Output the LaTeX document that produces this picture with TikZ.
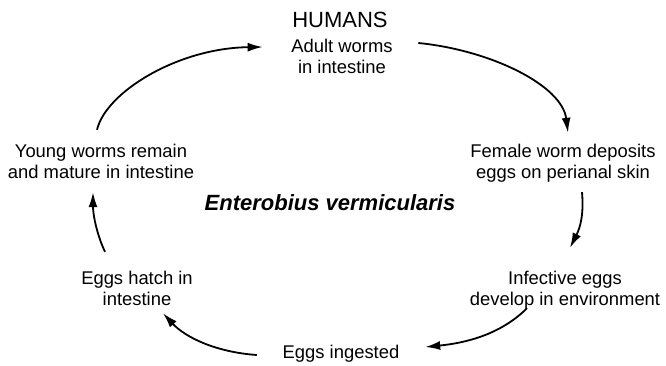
\documentclass[tikz,border=0pt]{standalone}
\usepackage{fontspec}
\setmainfont{Liberation Sans}
\usetikzlibrary{arrows.meta,calc}
\begin{document}
\begin{tikzpicture}[x=1pt,y=1pt,
  lbl/.style={inner sep=0pt,align=center,font=\fontsize{18.4}{21}\selectfont},
  big/.style={inner sep=0pt,font=\fontsize{22}{24}\selectfont},
  arr/.style={line width=1.8pt,-{Latex[length=15pt,width=9pt]}}]
\useasboundingbox (0,0) rectangle (666,-365);
\node[big] (humans) at (340,-20) {HUMANS};
\node[lbl] (adult) at (342,-58.3) {\strut Adult worms\\\strut in intestine};
\node[lbl] (female) at (563,-163.3) {\strut Female worm deposits\\\strut eggs on perianal skin};
\node[lbl] (infective) at (565,-290.3) {\strut Infective eggs\\\strut develop in environment};
\node[lbl] (ingested) at (341,-353.8) {\strut Eggs ingested};
\node[lbl] (hatch) at (137,-290.3) {\strut Eggs hatch in\\\strut intestine};
\node[lbl] (young) at (101,-163.3) {\strut Young worms remain\\\strut and mature in intestine};
\node[big,font=\fontsize{22}{24}\selectfont\bfseries\itshape] (entero) at (330,-203) {Enterobius vermicularis};

\draw[arr] ($(young.north)+(-4,12.3)$) .. controls (106,-92) and (178,-48) .. ($(adult.west)+(-28.5,11.3)$);
\draw[arr] ($(adult.east)+(25.5,15.3)$) .. controls (490,-50) and (562,-85) .. ($(female.north)+(5,9.3)$);
\draw[arr] ($(female.south)+(19,-7.7)$) .. controls (584,-215) and (580,-228) .. ($(infective.north)+(5,21.3)$);
\draw[arr] ($(infective.south)+(-38,3.3)$) .. controls (500,-335) and (465,-343) .. ($(ingested.east)+(25.7,6.8)$);
\draw[arr] ($(ingested.west)+(-25.7,-1.2)$) .. controls (215,-352) and (185,-337) .. ($(hatch.south)+(26,-1.7)$);
\draw[arr] ($(hatch.north)+(-32,17.3)$) .. controls (97,-235) and (93,-215) .. ($(young.south)+(-8,-7.7)$);
\end{tikzpicture}
\end{document}
